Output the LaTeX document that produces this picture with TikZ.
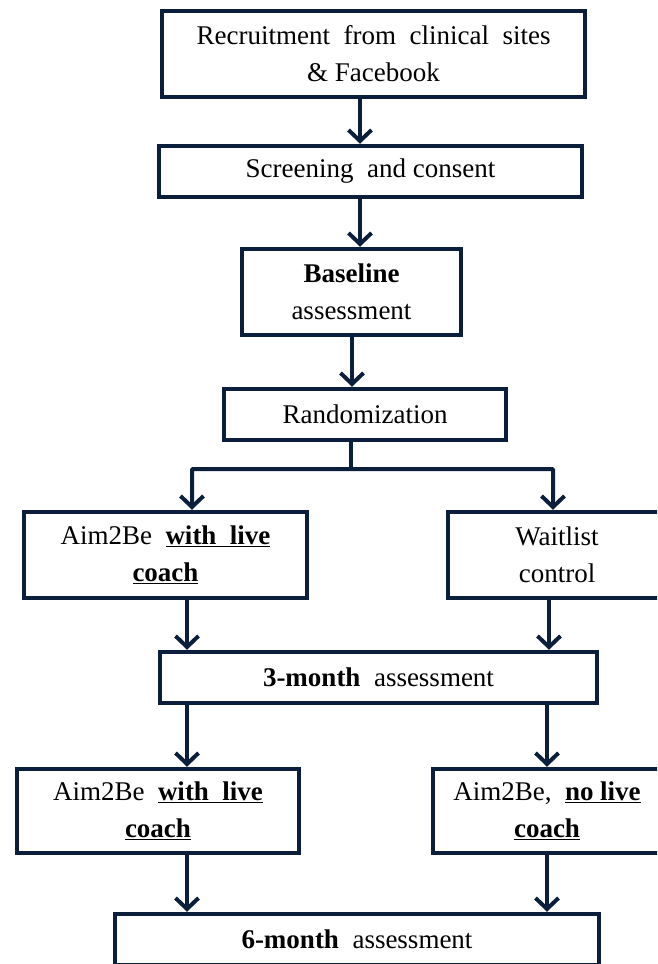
\documentclass[tikz,border=0pt]{standalone}
\usepackage{fontspec}
\setmainfont{Liberation Serif}
\usetikzlibrary{arrows.meta}
\definecolor{darknavy}{HTML}{0B1E3C}
\begin{document}
\begin{tikzpicture}[x=1pt, y=-1pt, >={Straight Barb[length=11pt,width=23pt]},
    box/.style={draw=darknavy, line width=4.5pt, align=center, inner sep=0pt, font=\fontsize{27}{37}\selectfont},
    arr/.style={->, draw=darknavy, line width=4pt}]
\useasboundingbox (0,0) rectangle (657,964);
\clip (0,0) rectangle (657,964);
\node[box, minimum width=423, minimum height=86] (recruit) at (373.5,54) {Recruitment\ \ from\ \ clinical\ \ sites\\ \& Facebook};
\node[box, minimum width=423, minimum height=51] (screen) at (370.5,171.5) {Screening\ \ and consent};
\node[box, minimum width=219, minimum height=86] (baseline) at (351.5,292) {\textbf{Baseline}\\ assessment};
\node[box, minimum width=282, minimum height=51] (rand) at (365,414.5) {Randomization};
\node[box, minimum width=283, minimum height=86] (coachA) at (165.5,555) {Aim2Be\ \ \underline{\textbf{with\ \ live}}\\ \underline{\textbf{coach}}};
\node[box, minimum width=218, minimum height=86] (wait) at (557,555) {Waitlist\\ control};
\node[box, minimum width=437, minimum height=51] (three) at (378.5,677.5) {\textbf{3-month}\ \ assessment};
\node[box, minimum width=282, minimum height=84] (coachB) at (158,811) {Aim2Be\ \ \underline{\textbf{with\ \ live}}\\ \underline{\textbf{coach}}};
\node[box, minimum width=228, minimum height=84] (nolive) at (547,811) {Aim2Be,\ \ \underline{\textbf{no live}}\\ \underline{\textbf{coach}}};
\node[box, minimum width=484, minimum height=51] (six) at (357,939.5) {\textbf{6-month}\ \ assessment};

\draw[arr] (recruit.south -| 360,0) -- (screen.north -| 360,0);
\draw[arr] (screen.south -| 360,0) -- (baseline.north -| 360,0);
\draw[arr] (baseline.south -| 352,0) -- (rand.north -| 352,0);
\coordinate (split) at (351,469);
\draw[darknavy, line width=4pt] (rand.south -| split) -- (split);
\draw[arr, rounded corners=1pt] (split) -| (coachA.north -| 192,0);
\draw[arr, rounded corners=1pt] (split) -| (wait.north -| 553,0);
\draw[arr] (coachA.south -| 187,0) -- (three.north -| 187,0);
\draw[arr] (wait.south -| 549,0) -- (three.north -| 549,0);
\draw[arr] (three.south -| 187,0) -- (coachB.north -| 187,0);
\draw[arr] (three.south -| 547,0) -- (nolive.north -| 547,0);
\draw[arr] (coachB.south -| 187,0) -- (six.north -| 187,0);
\draw[arr] (nolive.south -| 547,0) -- (six.north -| 547,0);
\end{tikzpicture}
\end{document}
